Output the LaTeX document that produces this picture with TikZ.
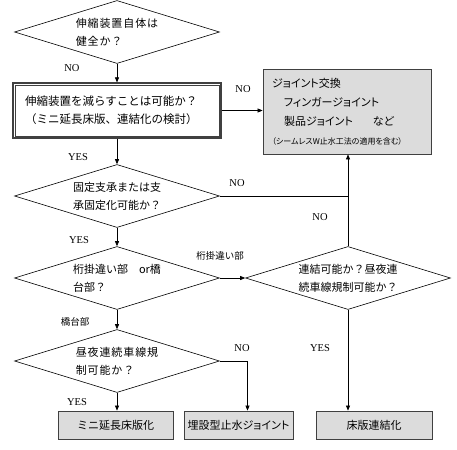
\documentclass[tikz,border=0pt]{standalone}
\usepackage{fontspec}
\setmainfont{Noto Sans CJK JP}
\newfontfamily\latinfont{Liberation Serif}
\newfontfamily\widejp[LetterSpace=8]{Noto Sans CJK JP}
\newfontfamily\propjp[RawFeature=+palt]{Noto Sans CJK JP}
\usetikzlibrary{shapes.geometric,arrows.meta}

\definecolor{boxgray}{HTML}{DCDCDC}
\definecolor{edgegray}{HTML}{404040}

\tikzset{
  decision/.style={shape=diamond, draw, line width=0.6pt, inner sep=0pt,
    aspect=3.2, minimum width=205pt, minimum height=63pt, align=left,
    font=\fontsize{11}{18}\selectfont},
  resultbox/.style={rectangle, draw=edgegray, fill=boxgray, line width=0.8pt,
    minimum height=28pt, font=\fontsize{11}{13}\selectfont},
  answer/.style={font=\latinfont\fontsize{10.5}{12}\selectfont},
  branch/.style={font=\fontsize{9.5}{12}\selectfont},
  flow/.style={line width=0.6pt, -{Triangle[length=5pt,width=4pt]}},
  plain/.style={line width=0.6pt}
}

\begin{document}
\begin{tikzpicture}[x=1pt, y=-1pt]
  \useasboundingbox (0,0) rectangle (457,449);

  % Decisions, left column
  \node[decision] (sound) at (117,32)
    {\widejp 伸縮装置自体は\\\widejp 健全か？};
  \node[rectangle, draw=edgegray, line width=1.2pt,
    text width=184pt, inner xsep=12pt, minimum height=55pt, align=left,
    font=\fontsize{11.5}{18}\selectfont] (reduce) at (117,110.5)
    {伸縮装置を減らすことは可能か？\\（ミニ延長床版、連結化の検討）};
  \draw[edgegray, line width=0.6pt]
    ([shift={(2.5,2.5)}]reduce.north west) rectangle ([shift={(-2.5,-2.5)}]reduce.south east);
  \node[decision] (fixbearing) at (117,196)
    {固定支承または支\\承固定化可能か？};
  \node[decision] (position) at (117,278)
    {桁掛違い部　or橋\\台部？};
  \node[decision] (traffic) at (117,361)
    {\widejp 昼夜連続車線規\\\widejp 制可能か？};

  % Decision, right column
  \node[decision] (connect) at (348,278)
    {連結可能か？昼夜連\\続車線規制可能か？};

  % Results
  \node[rectangle, draw=edgegray, fill=boxgray, line width=0.8pt,
    minimum width=168pt, minimum height=85pt, text width=150pt, align=left,
    font=\propjp\fontsize{11}{19}\selectfont] (replace) at (347,111.5)
    {ジョイント交換\\
     \hspace{12pt}フィンガージョイント\\
     \hspace{12pt}製品ジョイント\hspace{20pt}など\\
     {\fontsize{8}{19}\selectfont （シームレスW止水工法の適用を含む）}};
  \node[resultbox, minimum width=115pt] (minislab) at (115.5,425) {ミニ延長床版化};
  \node[resultbox, minimum width=109pt, font=\propjp\fontsize{11}{13}\selectfont]
    (buried) at (238.5,425) {埋設型止水ジョイント};
  \node[resultbox, minimum width=116pt] (slablink) at (374,425) {床版連結化};

  % Connectors
  \draw[flow] (sound.south) -- (reduce.north);
  \draw[flow] (reduce.east) -- (reduce.east -| replace.west);
  \draw[flow] (reduce.south) -- (fixbearing.north);
  \draw[plain] (fixbearing.east) -- (fixbearing.east -| connect.north);
  \draw[flow] (connect.north) -- (connect.north |- replace.south);
  \draw[flow] (fixbearing.south) -- (position.north);
  \draw[flow] (position.east) -- (connect.west);
  \draw[flow] (position.south) -- (traffic.north);
  \draw[flow] (traffic.south) -- (traffic.south |- minislab.north);
  \draw[flow] (traffic.east) -| ([xshift=9pt]buried.north);
  \draw[flow] (connect.south) -- (connect.south |- slablink.north);

  % Branch labels
  \node[answer] (no1) at (72,68) {NO};
  \node[answer] (no2) at (243,89) {NO};
  \node[answer] (yes1) at (78,157) {YES};
  \node[answer] (no3) at (237,183) {NO};
  \node[answer] (no4) at (320,217) {NO};
  \node[answer] (yes2) at (79,240) {YES};
  \node[branch] (girder) at (220,256) {桁掛違い部};
  \node[branch] (abutment) at (75,322) {橋台部};
  \node[answer] (no5) at (242,348) {NO};
  \node[answer] (yes3) at (320,348) {YES};
  \node[answer] (yes4) at (77,402) {YES};

\end{tikzpicture}
\end{document}
